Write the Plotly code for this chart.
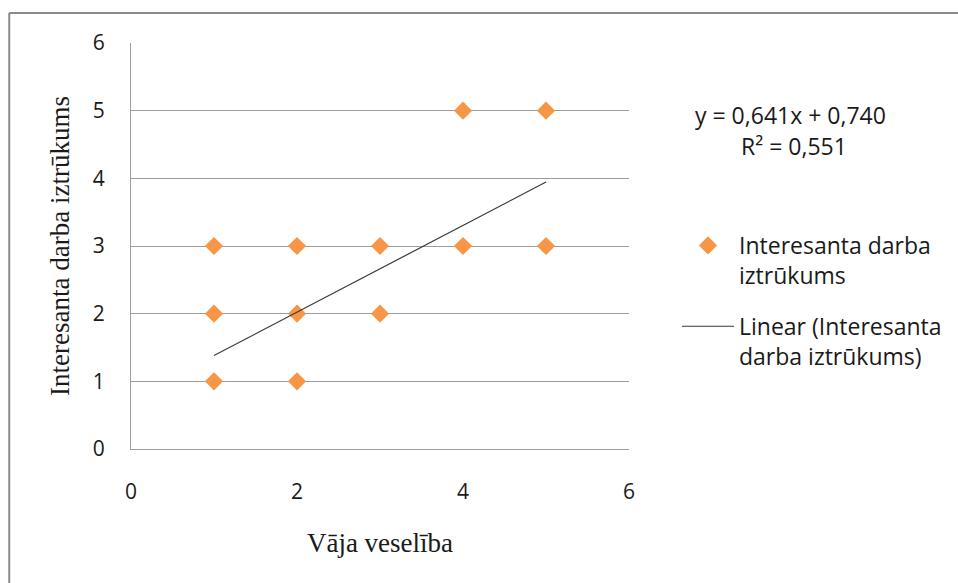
import numpy as np
import plotly.graph_objects as go

# Survey scores: weak health (x) vs. lack of interesting work (y)
health = [1, 1, 1, 2, 2, 2, 3, 3, 4, 4, 5, 5]
interest_lack = [1, 2, 3, 1, 2, 3, 2, 3, 3, 5, 3, 5]

# Linear trend line reported for the series
slope = 0.641
intercept = 0.740
r_squared = 0.551

series_name = "Interesanta darba<br>iztrūkums"
trend_name = "Linear (Interesanta<br>darba iztrūkums)"

x_title = "Vāja veselība"
y_title = "Interesanta darba iztrūkums"

ORANGE = "#F79646"
GRID = "#9C9C9C"
TEXT = "#1a1a1a"
SANS = "'Open Sans', 'Noto Sans', sans-serif"
SERIF = "'Liberation Serif', 'Times New Roman', serif"
LABEL_SIZE = 23
TICK_SIZE = 21
TITLE_SIZE = 27

trend_x = np.array([min(health), max(health)], dtype=float)
trend_y = slope * trend_x + intercept


def fmt(v):
    return f"{v:.3f}".replace(".", ",")


fig = go.Figure()
fig.add_trace(go.Scatter(
    x=health, y=interest_lack, mode="markers", name=series_name,
    legendgroup="a",
    marker=dict(symbol="diamond", size=14, color=ORANGE, line=dict(width=0)),
))
fig.add_trace(go.Scatter(
    x=trend_x, y=trend_y, mode="lines", name=trend_name,
    legendgroup="b",
    line=dict(color="#3a3a3a", width=1.2),
))

L, R, T, B = 131, 328, 43, 134
W, H = 958, 583
pw, ph = W - L - R, H - T - B


def px_x(px):
    return (px - L) / pw


def px_y(py):
    return (H - B - py) / ph


fig.update_layout(
    width=W, height=H,
    margin=dict(l=L, r=R, t=T, b=B),
    paper_bgcolor="white", plot_bgcolor="white",
    font=dict(family=SANS, size=LABEL_SIZE, color=TEXT),
    showlegend=True,
    legend=dict(
        x=px_x(677), y=px_y(224), xanchor="left", yanchor="top",
        valign="top", itemwidth=52, traceorder="grouped",
        tracegroupgap=18,
        font=dict(family=SANS, size=LABEL_SIZE, color=TEXT),
        bgcolor="rgba(0,0,0,0)",
    ),
    xaxis=dict(
        range=[0, 6], dtick=2, tick0=0, showgrid=False, zeroline=False,
        showline=True, linecolor=GRID, linewidth=1.3,
        ticks="outside", ticklen=0, ticklabelstandoff=24,
        tickfont=dict(family=SANS, size=TICK_SIZE, color=TEXT),
        title=dict(text=x_title, font=dict(family=SERIF, size=TITLE_SIZE, color=TEXT), standoff=28),
    ),
    yaxis=dict(
        range=[0, 6], dtick=1, tick0=0, showgrid=True, gridcolor=GRID, gridwidth=1.3,
        zeroline=False, showline=True, linecolor=GRID, linewidth=1.3,
        ticks="outside", ticklen=0, ticklabelstandoff=21,
        tickfont=dict(family=SANS, size=TICK_SIZE, color=TEXT),
        title=dict(text=y_title, font=dict(family=SERIF, size=TITLE_SIZE, color=TEXT), standoff=15),
    ),
    annotations=[
        dict(
            text=f"y = {fmt(slope)}x + {fmt(intercept)}",
            xref="paper", yref="paper", x=px_x(792), y=px_y(115),
            xanchor="center", yanchor="middle", showarrow=False,
            font=dict(family=SANS, size=LABEL_SIZE, color=TEXT),
        ),
        dict(
            text=f"R² = {fmt(r_squared)}",
            xref="paper", yref="paper", x=px_x(795), y=px_y(146),
            xanchor="center", yanchor="middle", showarrow=False,
            font=dict(family=SANS, size=LABEL_SIZE, color=TEXT),
        ),
    ],
    shapes=[
        # outer chart frame (top and left edges visible)
        dict(type="line", xref="paper", yref="paper",
             x0=px_x(9), x1=px_x(962), y0=px_y(13), y1=px_y(13),
             line=dict(color="#8a8a8a", width=2)),
        dict(type="line", xref="paper", yref="paper",
             x0=px_x(9), x1=px_x(9), y0=px_y(13), y1=px_y(590),
             line=dict(color="#8a8a8a", width=2)),
    ],
)

fig.write_html("out.html")
